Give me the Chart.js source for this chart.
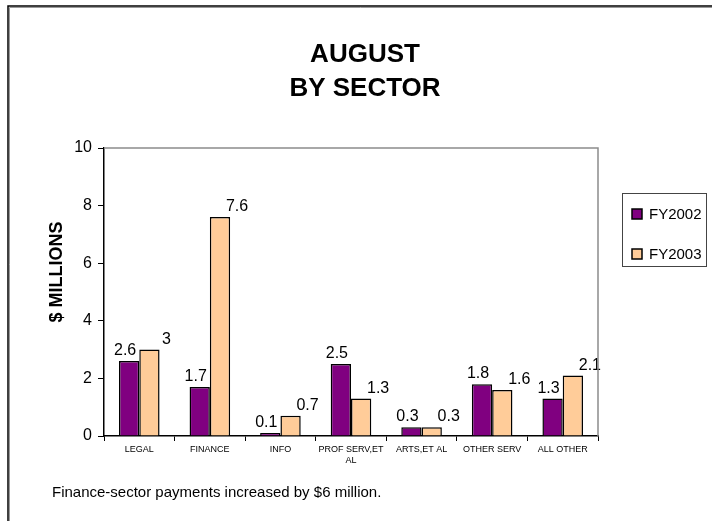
<!DOCTYPE html>
<html>
<head>
<meta charset="utf-8">
<title>August by sector</title>
<script src="https://cdn.jsdelivr.net/npm/chart.js@4/dist/chart.umd.min.js"></script>
<style>
  body { margin: 0; background: #fff; }
  canvas { display: block; }
</style>
</head>
<body>
<canvas id="myChart" width="712" height="521"></canvas>
<script>
// ---------- data ----------
let categories = ["LEGAL", "FINANCE", "INFO", ["PROF SERV,ET", "AL"], "ARTS,ET AL", "OTHER SERV", "ALL OTHER"];
let fy2002 = [2.6, 1.7, 0.1, 2.5, 0.3, 1.8, 1.3];
let fy2003 = [3, 7.6, 0.7, 1.3, 0.3, 1.6, 2.1];
let seriesNames = ["FY2002", "FY2003"];
let yMin = 0;
let yMax = 10;
let yStep = 2;

let titleLines = ["AUGUST", "BY SECTOR"];
let yTitle = "$ MILLIONS";
let note = "Finance-sector payments increased by $6 million.";

let FONT = "'Liberation Sans', Arial, sans-serif";

// ---------- extra drawing (labels, title, legend, frame) ----------
let decor = {
  id: "decor",
  afterDatasetsDraw(chart) {
    let ctx = chart.ctx;
    let shift = [-4, 17]; // excel puts the labels a bit off centre
    ctx.save();
    ctx.font = "16px " + FONT;
    ctx.fillStyle = "#000";
    ctx.textAlign = "center";
    ctx.textBaseline = "alphabetic";
    chart.data.datasets.forEach((ds, i) => {
      let meta = chart.getDatasetMeta(i);
      meta.data.forEach((bar, j) => {
        ctx.fillText(String(ds.data[j]), bar.x + shift[i], bar.y - 6);
      });
    });
    ctx.restore();
  },
  afterDraw(chart) {
    let ctx = chart.ctx;
    let a = chart.chartArea;
    ctx.save();

    // outer frame (only top and left show in the window)
    ctx.strokeStyle = "#000";
    ctx.lineWidth = 1.5;
    ctx.beginPath();
    ctx.moveTo(8, 521);
    ctx.lineTo(8, 6);
    ctx.lineTo(712, 6);
    ctx.stroke();
    ctx.strokeStyle = "#999";
    ctx.lineWidth = 1;
    ctx.beginPath();
    ctx.moveTo(9.5, 521);
    ctx.lineTo(9.5, 7.5);
    ctx.lineTo(712, 7.5);
    ctx.stroke();

    // grey plot area border, top and right
    ctx.strokeStyle = "#8c8c8c";
    ctx.lineWidth = 1.5;
    ctx.beginPath();
    ctx.moveTo(a.left, a.top);
    ctx.lineTo(a.right, a.top);
    ctx.lineTo(a.right, a.bottom);
    ctx.stroke();

    // title
    ctx.fillStyle = "#000";
    ctx.font = "bold 26px " + FONT;
    ctx.textAlign = "center";
    ctx.textBaseline = "alphabetic";
    titleLines.forEach((t, i) => ctx.fillText(t, 365, 62 + i * 34));

    // y title
    ctx.save();
    ctx.translate(62, 272);
    ctx.rotate(-Math.PI / 2);
    ctx.font = "bold 18px " + FONT;
    ctx.fillText(yTitle, 0, 0);
    ctx.restore();

    // legend
    ctx.strokeStyle = "#444";
    ctx.lineWidth = 1;
    ctx.strokeRect(622.5, 193.5, 84, 73);
    ctx.font = "15px " + FONT;
    ctx.textAlign = "left";
    ctx.textBaseline = "middle";
    chart.data.datasets.forEach((ds, i) => {
      let y = 214 + i * 40;
      ctx.fillStyle = ds.backgroundColor;
      ctx.fillRect(632, y - 5, 10, 10);
      ctx.strokeStyle = "#000";
      ctx.lineWidth = 1.5;
      ctx.strokeRect(632, y - 5, 10, 10);
      ctx.fillStyle = "#000";
      ctx.fillText(ds.label, 649, y + 1);
    });

    // note at the bottom
    ctx.font = "15px " + FONT;
    ctx.textBaseline = "alphabetic";
    ctx.fillText(note, 52, 497);

    ctx.restore();
  }
};

// ---------- chart ----------
new Chart("myChart", {
  type: "bar",
  data: {
    labels: categories,
    datasets: [
      {
        label: seriesNames[0],
        data: fy2002,
        backgroundColor: "#800080",
        borderColor: "#000",
        borderWidth: 1.5
      },
      {
        label: seriesNames[1],
        data: fy2003,
        backgroundColor: "#FFCC99",
        borderColor: "#000",
        borderWidth: 1.5
      }
    ]
  },
  options: {
    responsive: false,
    animation: false,
    categoryPercentage: 0.575,
    barPercentage: 1,
    layout: { padding: { top: 148, right: 114, bottom: 45, left: 0 } },
    plugins: {
      legend: { display: false },
      title: { display: false },
      tooltip: { enabled: false }
    },
    scales: {
      x: {
        grid: { drawOnChartArea: false, drawTicks: true, tickLength: 5, color: "#000" },
        border: { color: "#000", width: 1.5 },
        ticks: {
          color: "#000",
          font: { family: FONT, size: 9 },
          padding: 3,
          maxRotation: 0,
          autoSkip: false
        },
        afterFit(scale) { scale.height = 40; }
      },
      y: {
        min: yMin,
        max: yMax,
        grid: { drawOnChartArea: false, drawTicks: true, tickLength: 6, color: "#000" },
        border: { color: "#000", width: 1.5 },
        ticks: {
          stepSize: yStep,
          color: "#000",
          font: { family: FONT, size: 16 },
          padding: 6
        },
        afterFit(scale) { scale.width = 104; }
      }
    }
  },
  plugins: [decor]
});
</script>
</body>
</html>
